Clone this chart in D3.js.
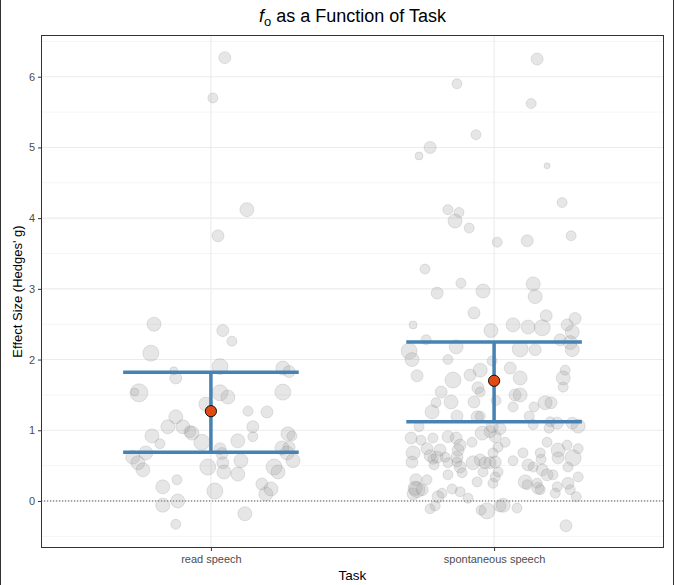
<!DOCTYPE html>
<html>
<head>
<meta charset="utf-8">
<script src="https://cdn.jsdelivr.net/npm/d3@7"></script>
<style>
  html, body { margin: 0; padding: 0; background: #fff; }
  svg { display: block; font-family: "Liberation Sans", Arial, Helvetica, sans-serif; }
</style>
</head>
<body>
<div id="chart"></div>
<script>
const categories = ["read speech", "spontaneous speech"];

const yTicks = [0, 1, 2, 3, 4, 5, 6];
const yMinorTicks = [-0.5, 0.5, 1.5, 2.5, 3.5, 4.5, 5.5, 6.5];

// mean and interval per task
const means = [1.27, 1.70];
const lowers = [0.69, 1.12];
const uppers = [1.82, 2.25];

// [jitter (category units), effect size, weight]
const readPoints = [
  [0.049, 6.27, 36], [0.007, 5.70, 25], [0.127, 4.12, 49], [0.025, 3.75, 36],
  [-0.201, 2.50, 49], [0.042, 2.41, 36], [0.074, 2.26, 25], [-0.212, 2.09, 64],
  [0.032, 1.90, 64], [0.254, 1.88, 49], [0.276, 1.83, 36], [-0.131, 1.84, 16],
  [-0.124, 1.74, 36], [-0.254, 1.53, 81], [-0.269, 1.54, 16], [0.032, 1.53, 64],
  [0.060, 1.47, 49], [0.254, 1.54, 64], [-0.018, 1.37, 49], [0.131, 1.27, 25],
  [0.198, 1.26, 36], [-0.124, 1.19, 49], [-0.152, 1.05, 49], [-0.099, 1.05, 49],
  [-0.074, 0.98, 36], [-0.067, 0.96, 49], [0.148, 1.05, 36], [0.148, 0.91, 25],
  [-0.208, 0.92, 49], [-0.180, 0.81, 25], [-0.032, 0.83, 64], [0.095, 0.85, 49],
  [0.272, 0.95, 49], [0.286, 0.92, 25], [-0.230, 0.68, 49], [-0.276, 0.62, 49],
  [-0.258, 0.54, 49], [-0.240, 0.44, 49], [0.032, 0.74, 36], [0.039, 0.67, 36],
  [0.042, 0.54, 36], [0.046, 0.41, 49], [-0.011, 0.48, 64], [0.106, 0.57, 49],
  [0.095, 0.38, 49], [0.251, 0.75, 49], [0.276, 0.76, 36], [0.269, 0.68, 49],
  [0.290, 0.57, 49], [0.223, 0.48, 64], [0.237, 0.41, 49], [-0.120, 0.30, 25],
  [-0.170, 0.20, 49], [0.014, 0.14, 64], [0.180, 0.24, 36], [0.212, 0.17, 49],
  [0.194, 0.10, 49], [-0.117, 0.00, 49], [-0.170, -0.06, 49], [0.120, -0.18, 49],
  [-0.124, -0.33, 25],
];

const spontaneousPoints = [
  [0.152, 6.25, 36], [-0.131, 5.90, 25], [0.131, 5.62, 25], [-0.064, 5.18, 25],
  [-0.226, 5.00, 36], [-0.265, 4.88, 16], [0.187, 4.74, 9], [0.240, 4.22, 25],
  [-0.163, 4.12, 25], [-0.124, 4.08, 25], [-0.138, 3.96, 49], [-0.088, 3.86, 25],
  [0.011, 3.66, 25], [0.117, 3.68, 36], [0.272, 3.75, 25], [-0.244, 3.28, 25],
  [-0.117, 3.08, 25], [-0.201, 2.94, 36], [-0.039, 2.97, 49], [0.138, 3.07, 49],
  [0.145, 2.89, 49], [-0.071, 2.66, 36], [-0.286, 2.49, 16], [0.184, 2.62, 36],
  [0.286, 2.58, 36], [0.067, 2.49, 49], [0.120, 2.46, 49], [0.170, 2.45, 64],
  [-0.011, 2.41, 49], [0.258, 2.49, 36], [0.276, 2.39, 49], [-0.240, 2.28, 25],
  [-0.300, 2.12, 64], [-0.290, 2.00, 49], [-0.134, 2.18, 49], [0.092, 2.15, 64],
  [0.145, 2.14, 36], [0.233, 2.28, 36], [0.269, 2.24, 49], [0.276, 2.14, 49],
  [-0.163, 2.00, 25], [-0.272, 1.77, 36], [-0.145, 1.71, 64], [-0.085, 1.78, 36],
  [-0.049, 1.85, 49], [-0.007, 1.98, 25], [0.057, 1.88, 36], [0.092, 1.74, 49],
  [0.244, 1.74, 49], [0.251, 1.85, 25], [0.244, 1.61, 25], [-0.187, 1.54, 36],
  [-0.205, 1.39, 25], [-0.152, 1.40, 49], [-0.219, 1.26, 49], [-0.057, 1.60, 36],
  [-0.049, 1.54, 25], [-0.071, 1.40, 36], [0.007, 1.42, 25], [0.067, 1.33, 25],
  [0.074, 1.50, 36], [0.092, 1.50, 49], [0.141, 1.33, 25], [0.180, 1.39, 49],
  [0.201, 1.39, 36], [-0.131, 1.20, 36], [-0.060, 1.19, 36], [-0.049, 1.20, 25],
  [0.124, 1.20, 25], [0.138, 1.08, 25], [0.194, 1.03, 25], [0.198, 1.12, 25],
  [0.223, 1.10, 36], [0.276, 1.10, 36], [0.297, 1.06, 49], [-0.265, 1.05, 25],
  [-0.007, 1.05, 36], [-0.293, 0.89, 36], [-0.258, 0.86, 25], [-0.216, 0.89, 25],
  [-0.163, 0.91, 36], [-0.134, 0.89, 36], [-0.078, 0.83, 25], [-0.042, 0.96, 49],
  [-0.014, 0.98, 36], [0.004, 0.91, 36], [0.021, 1.02, 36], [0.039, 0.83, 25],
  [0.187, 0.83, 25], [0.258, 0.79, 25], [0.297, 0.74, 25], [-0.286, 0.68, 49],
  [-0.290, 0.55, 36], [-0.237, 0.74, 36], [-0.191, 0.72, 36], [-0.201, 0.62, 36],
  [-0.226, 0.64, 36], [-0.127, 0.72, 36], [-0.131, 0.62, 36], [-0.216, 0.59, 25],
  [-0.173, 0.62, 25], [-0.120, 0.79, 36], [-0.163, 0.54, 25], [-0.212, 0.51, 25],
  [-0.120, 0.48, 36], [-0.131, 0.55, 25], [-0.049, 0.58, 36], [-0.074, 0.54, 49],
  [-0.032, 0.54, 36], [-0.014, 0.54, 36], [0.004, 0.55, 36], [-0.004, 0.68, 25],
  [0.014, 0.76, 25], [0.014, 0.41, 25], [-0.039, 0.41, 25], [0.067, 0.57, 25],
  [0.102, 0.68, 25], [0.163, 0.68, 25], [0.166, 0.59, 25], [0.120, 0.51, 36],
  [0.138, 0.48, 25], [0.170, 0.44, 36], [0.226, 0.72, 49], [0.226, 0.61, 36],
  [0.279, 0.61, 64], [0.261, 0.48, 25], [0.187, 0.37, 36], [0.208, 0.37, 25],
  [0.297, 0.34, 25], [-0.276, 0.30, 36], [-0.272, 0.16, 64], [-0.286, 0.10, 36],
  [-0.254, 0.16, 36], [-0.237, 0.30, 25], [-0.279, 0.18, 49], [-0.184, 0.11, 25],
  [-0.198, 0.06, 36], [-0.148, 0.17, 25], [-0.120, 0.13, 25], [-0.163, 0.37, 25],
  [-0.113, 0.40, 25], [-0.060, 0.27, 25], [-0.004, 0.25, 25], [-0.092, 0.04, 25],
  [0.110, 0.27, 49], [0.117, 0.23, 25], [0.152, 0.25, 25], [0.155, 0.18, 36],
  [0.163, 0.16, 25], [0.223, 0.20, 25], [0.216, 0.11, 25], [0.261, 0.25, 36],
  [0.269, 0.16, 25], [0.290, 0.06, 25], [0.004, 0.34, 25], [-0.226, -0.11, 25],
  [-0.208, -0.07, 25], [-0.046, -0.13, 25], [-0.025, -0.14, 64], [0.021, -0.07, 36],
  [0.032, -0.06, 49], [0.081, -0.10, 25], [0.254, -0.35, 36],
];

const width = 675;
const height = 585;
const margin = { top: 35, right: 11, bottom: 37, left: 41 };
const plotRight = width - margin.right;
const plotBottom = height - margin.bottom;

const svg = d3
  .select("#chart")
  .append("svg")
  .attr("width", width)
  .attr("height", height);

// discrete axis with ggplot-style 0.6 expansion
const x = d3.scaleLinear().domain([0.4, categories.length + 0.6]).range([margin.left, plotRight]);
const y = d3.scaleLinear().domain([-0.665, 6.59]).range([plotBottom, margin.top]);
const radius = d3.scaleSqrt().domain([0, 81]).range([0, 9]);

const grid = svg.append("g").attr("class", "grid");

grid
  .selectAll("line.minor")
  .data(yMinorTicks)
  .join("line")
  .attr("class", "minor")
  .attr("x1", margin.left)
  .attr("x2", plotRight)
  .attr("y1", (d) => y(d))
  .attr("y2", (d) => y(d))
  .attr("stroke", "#f1f1f1")
  .attr("stroke-width", 0.8);

grid
  .selectAll("line.major")
  .data(yTicks)
  .join("line")
  .attr("class", "major")
  .attr("x1", margin.left)
  .attr("x2", plotRight)
  .attr("y1", (d) => y(d))
  .attr("y2", (d) => y(d))
  .attr("stroke", "#ebebeb")
  .attr("stroke-width", 1.1);

grid
  .selectAll("line.xmajor")
  .data(categories)
  .join("line")
  .attr("class", "xmajor")
  .attr("x1", (d, i) => x(i + 1))
  .attr("x2", (d, i) => x(i + 1))
  .attr("y1", margin.top)
  .attr("y2", plotBottom)
  .attr("stroke", "#ebebeb")
  .attr("stroke-width", 1.1);

// zero reference
svg
  .append("line")
  .attr("x1", margin.left)
  .attr("x2", plotRight)
  .attr("y1", y(0))
  .attr("y2", y(0))
  .attr("stroke", "#555")
  .attr("stroke-width", 1)
  .attr("stroke-dasharray", "1.2 1.8");

const allPoints = [
  ...readPoints.map((p) => ({ task: 0, jitter: p[0], value: p[1], weight: p[2] })),
  ...spontaneousPoints.map((p) => ({ task: 1, jitter: p[0], value: p[1], weight: p[2] })),
];

svg
  .append("g")
  .attr("class", "points")
  .selectAll("circle")
  .data(allPoints)
  .join("circle")
  .attr("cx", (d) => x(d.task + 1 + d.jitter))
  .attr("cy", (d) => y(d.value))
  .attr("r", (d) => radius(d.weight))
  .attr("fill", "#9a9a9a")
  .attr("fill-opacity", 0.25)
  .attr("stroke", "#8a8a8a")
  .attr("stroke-opacity", 0.22)
  .attr("stroke-width", 1);

// error bars
const summary = categories.map((task, i) => ({
  task: i,
  mean: means[i],
  lower: lowers[i],
  upper: uppers[i],
}));
const capHalf = 0.31;
const bars = svg.append("g").attr("class", "errorbars");

bars
  .selectAll("path")
  .data(summary)
  .join("path")
  .attr("fill", "none")
  .attr("stroke", "#4682b4")
  .attr("stroke-width", 3.5)
  .attr("d", (d) => {
    const cx = x(d.task + 1);
    const x0 = x(d.task + 1 - capHalf);
    const x1 = x(d.task + 1 + capHalf);
    return `M${x0},${y(d.upper)}H${x1}M${x0},${y(d.lower)}H${x1}M${cx},${y(d.upper)}V${y(d.lower)}`;
  });

svg
  .append("g")
  .attr("class", "means")
  .selectAll("circle")
  .data(summary)
  .join("circle")
  .attr("cx", (d) => x(d.task + 1))
  .attr("cy", (d) => y(d.mean))
  .attr("r", 5.6)
  .attr("fill", "#e34a12")
  .attr("stroke", "#111")
  .attr("stroke-width", 1);

// panel border
svg
  .append("rect")
  .attr("x", margin.left + 0.5)
  .attr("y", margin.top + 0.5)
  .attr("width", plotRight - margin.left - 1)
  .attr("height", plotBottom - margin.top - 1)
  .attr("fill", "none")
  .attr("stroke", "#333")
  .attr("stroke-width", 1);

// axes
const yAxis = svg
  .append("g")
  .attr("transform", `translate(${margin.left},0)`)
  .call(d3.axisLeft(y).tickValues(yTicks).tickSize(3).tickPadding(3).tickFormat(d3.format("d")));

const xAxis = svg
  .append("g")
  .attr("transform", `translate(0,${plotBottom})`)
  .call(
    d3
      .axisBottom(x)
      .tickValues(categories.map((c, i) => i + 1))
      .tickSize(3)
      .tickPadding(4)
      .tickFormat((d) => categories[d - 1]),
  );

for (const axis of [yAxis, xAxis]) {
  axis.select(".domain").remove();
  axis.selectAll(".tick line").attr("stroke", "#333");
  axis
    .selectAll(".tick text")
    .attr("fill", "#4d4d4d")
    .style("font-size", "11px")
    .style("font-family", "'Liberation Sans', Arial, sans-serif");
}

// titles
const title = svg
  .append("text")
  .attr("x", (margin.left + plotRight) / 2)
  .attr("y", 22)
  .attr("text-anchor", "middle")
  .style("font-size", "18px")
  .attr("fill", "#000");

title.append("tspan").style("font-style", "italic").text("f");
title.append("tspan").attr("dy", 4).style("font-size", "13px").text("o");
title.append("tspan").attr("dy", -4).text(" as a Function of Task");

svg
  .append("text")
  .attr("x", (margin.left + plotRight) / 2)
  .attr("y", 580)
  .attr("text-anchor", "middle")
  .style("font-size", "13.5px")
  .attr("fill", "#000")
  .text("Task");

svg
  .append("text")
  .attr("transform", `translate(22,${(margin.top + plotBottom) / 2}) rotate(-90)`)
  .attr("text-anchor", "middle")
  .style("font-size", "13px")
  .attr("fill", "#000")
  .text("Effect Size (Hedges' g)");

// window edges seen in the reference
svg
  .append("line")
  .attr("x1", 0.5)
  .attr("x2", 0.5)
  .attr("y1", 0)
  .attr("y2", height)
  .attr("stroke", "#333");

svg
  .append("line")
  .attr("x1", width - 1.5)
  .attr("x2", width - 1.5)
  .attr("y1", 0)
  .attr("y2", height)
  .attr("stroke", "#333");
</script>
</body>
</html>
